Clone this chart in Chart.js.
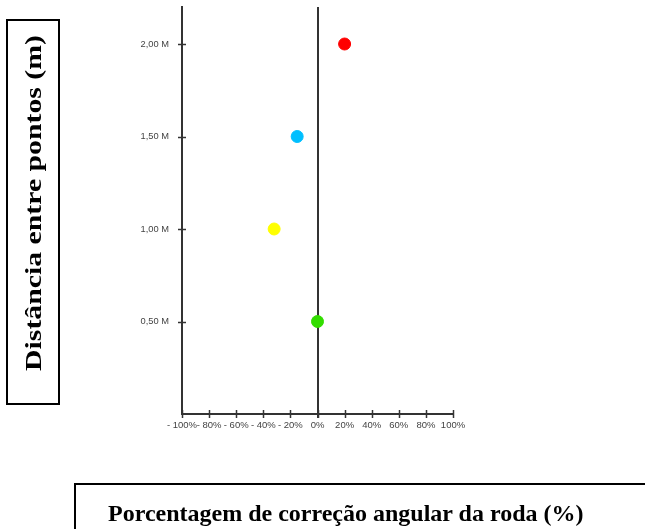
<!DOCTYPE html>
<html>
<head>
<meta charset="utf-8">
<script src="https://cdn.jsdelivr.net/npm/chart.js@4/dist/chart.umd.min.js"></script>
<style>
  html, body { margin: 0; padding: 0; background: #fff; }
  #wrap { position: relative; width: 645px; height: 529px; overflow: hidden; }
  #c { position: absolute; left: 0; top: 0; }
  .ttl { position: absolute; border: 2px solid #000; box-sizing: border-box; background: transparent;
         font-family: "Liberation Serif", "Times New Roman", serif; font-weight: bold; font-size: 24px; color: #000; }
  #ytitle { left: 6px; top: 19px; width: 54px; height: 386px; }
  #ytitle span { position: absolute; left: 50%; top: calc(50% - 9px); white-space: nowrap; line-height: 1;
                 transform: translate(-50%, -50%) rotate(-90deg) scaleX(1.24); }
  #xtitle { left: 74px; top: 483px; width: 600px; height: 80px; }
  #xtitle span { position: absolute; left: 32px; top: 16px; white-space: nowrap; line-height: 1; }
</style>
</head>
<body>
<div id="wrap">
  <canvas id="c" width="645" height="529"></canvas>
  <div class="ttl" id="ytitle"><span>Distância entre pontos (m)</span></div>
  <div class="ttl" id="xtitle"><span>Porcentagem de correção angular da roda (%)</span></div>
</div>
<script>
// Data
const correction = [20, -15, -32, 0];          // % angular correction
const distance = [2.0, 1.5, 1.0, 0.5];         // metres
const pointColors = ['#ff0000', '#00bfff', '#ffff00', '#33dd00'];
const xTicks = [-100, -80, -60, -40, -20, 0, 20, 40, 60, 80, 100];
const yTicks = [0.5, 1.0, 1.5, 2.0];

const points = correction.map((x, i) => ({ x: x, y: distance[i] }));

const crossTicks = {
  id: 'crossTicks',
  afterDatasetsDraw(chart) {
    const ctx = chart.ctx;
    const xs = chart.scales.x, ys = chart.scales.y;
    const yb = ys.getPixelForValue(0);
    const xl = xs.getPixelForValue(-100);
    ctx.save();
    ctx.strokeStyle = '#333';
    ctx.lineWidth = 1.5;
    xTicks.forEach(v => {
      const px = Math.round(xs.getPixelForValue(v)) + 0.5;
      ctx.beginPath(); ctx.moveTo(px, yb - 4); ctx.lineTo(px, yb + 4); ctx.stroke();
    });
    yTicks.forEach(v => {
      const py = Math.round(ys.getPixelForValue(v)) + 0.5;
      ctx.beginPath(); ctx.moveTo(xl - 4, py); ctx.lineTo(xl + 4, py); ctx.stroke();
    });
    ctx.restore();
  }
};

new Chart(document.getElementById('c'), {
  type: 'scatter',
  data: {
    datasets: [{
      data: points,
      backgroundColor: pointColors,
      borderColor: pointColors,
      pointRadius: 6,
      pointHoverRadius: 6
    }]
  },
  options: {
    responsive: false,
    animation: false,
    layout: { padding: { top: 6, right: 192, left: 0, bottom: 0 } },
    plugins: { legend: { display: false }, tooltip: { enabled: false } },
    scales: {
      x: {
        type: 'linear', min: -100, max: 100,
        afterBuildTicks: s => { s.ticks = xTicks.map(v => ({ value: v })); },
        afterFit: s => { s.height = 115; s.paddingLeft = 0; s.paddingRight = 0; },
        border: { display: true, color: '#333', width: 2 },
        grid: {
          drawOnChartArea: true, drawTicks: true, tickLength: 4,
          color: c => (c.tick && c.tick.value === 0) ? '#333' : 'rgba(0,0,0,0)',
          lineWidth: 2
        },
        ticks: {
          color: '#444', padding: 2, maxRotation: 0, autoSkip: false,
          font: { family: 'Liberation Sans, Arial, sans-serif', size: 9.5 },
          callback: v => (v < 0 ? '- ' + Math.abs(v) : v) + '%'
        }
      },
      y: {
        type: 'linear', min: 0, max: 2.2,
        afterBuildTicks: s => { s.ticks = yTicks.map(v => ({ value: v })); },
        afterFit: s => { s.width = 182; s.paddingTop = 0; s.paddingBottom = 0; },
        border: { display: true, color: '#333', width: 2 },
        grid: { drawOnChartArea: false, drawTicks: true, tickLength: 4, color: 'rgba(0,0,0,0)' },
        ticks: {
          color: '#444', padding: 9,
          font: { family: 'Liberation Sans, Arial, sans-serif', size: 9.3 },
          callback: v => v.toFixed(2).replace('.', ',') + ' M'
        }
      }
    }
  },
  plugins: [crossTicks]
});
</script>
</body>
</html>
